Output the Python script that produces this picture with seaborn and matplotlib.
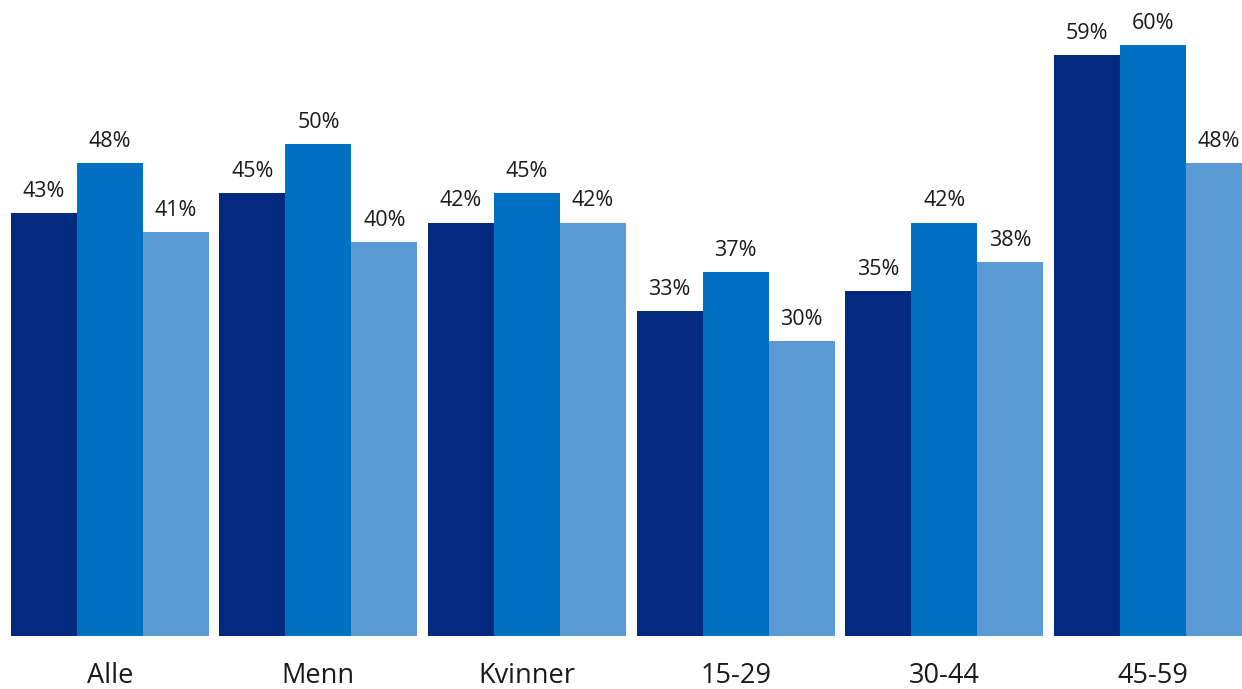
import matplotlib
matplotlib.use("Agg")
import matplotlib.pyplot as plt
import seaborn as sns
import pandas as pd

categories = ["Alle", "Menn", "Kvinner", "15-29", "30-44", "45-59"]
series_names = ["Serie 1", "Serie 2", "Serie 3"]
serie1 = [43, 45, 42, 33, 35, 59]
serie2 = [48, 50, 45, 37, 42, 60]
serie3 = [41, 40, 42, 30, 38, 48]
colors = ["#032A7E", "#0070C0", "#5B9BD5"]

rows = []
for name, vals in zip(series_names, [serie1, serie2, serie3]):
    for c, v in zip(categories, vals):
        rows.append({"Gruppe": c, "Serie": name, "Verdi": v})
df = pd.DataFrame(rows)

sns.set_style("white")
plt.rcParams["font.family"] = ["Open Sans", "DejaVu Sans"]

fig = plt.figure(figsize=(12.42, 6.89), dpi=100)
ax = fig.add_axes([0, 0.0769, 1, 0.9231])
sns.barplot(data=df, x="Gruppe", y="Verdi", hue="Serie", palette=colors,
            width=0.95, saturation=1, legend=False, ax=ax, errorbar=None,
            linewidth=0)

for cont in ax.containers:
    ax.bar_label(cont, labels=[f"{int(round(v))}%" for v in cont.datavalues],
                 padding=8, fontsize=15.5, color="#1a1a1a")

ax.set_xlim(-0.5264, 5.4276)
ax.set_ylim(0, 64.6)
ax.set_xlabel("")
ax.set_ylabel("")
ax.set_yticks([])
ax.tick_params(axis="x", length=0, pad=19, labelsize=19.5, labelcolor="#1a1a1a")
for s in ax.spines.values():
    s.set_visible(False)

fig.savefig("out.png", dpi=100)
